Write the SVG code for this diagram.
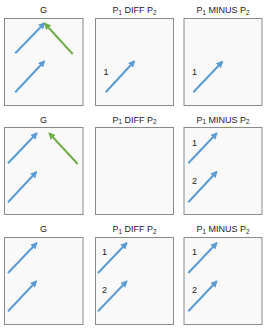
<svg xmlns="http://www.w3.org/2000/svg" width="269" height="329" viewBox="0 0 269 329">
<style>
.box{fill:#f9f9f9;stroke:#8a8a8a;stroke-width:1}
.t{font-family:"Liberation Sans",Arial,sans-serif;font-size:9px;fill:#222;text-anchor:middle}
.s{font-size:6.3px}
.n{font-family:"Liberation Sans",Arial,sans-serif;font-size:9px;fill:#222;text-anchor:middle}
.b{stroke:#5b9bd5;stroke-width:2;fill:none;marker-end:url(#ab)}
.g{stroke:#70ad47;stroke-width:2;fill:none;marker-end:url(#ag)}
</style>
<defs>
<marker id="ab" viewBox="0 0 10 10" refX="8" refY="5" markerWidth="3.5" markerHeight="3.5" orient="auto" markerUnits="strokeWidth"><path d="M0,0 L10,5 L0,10 z" fill="#5b9bd5"/></marker>
<marker id="ag" viewBox="0 0 10 10" refX="8" refY="5" markerWidth="3.5" markerHeight="3.5" orient="auto" markerUnits="strokeWidth"><path d="M0,0 L10,5 L0,10 z" fill="#70ad47"/></marker>
</defs>
<rect width="269" height="329" fill="#ffffff"/>

<g id="r1g">
<text class="t" x="43.5" y="13">G</text>
<rect class="box" x="4.5" y="18.5" width="78.5" height="87"/>
</g>
<g id="r1d">
<text class="t" x="134.5" y="13">P<tspan class="s" dy="1.5">1</tspan><tspan dy="-1.5"> DIFF P</tspan><tspan class="s" dy="1.5">2</tspan></text>
<rect class="box" x="95.5" y="18.5" width="78" height="87"/>
<text class="n" x="106" y="75">1</text>
</g>
<g id="r1m">
<text class="t" x="223" y="13">P<tspan class="s" dy="1.5">1</tspan><tspan dy="-1.5"> MINUS P</tspan><tspan class="s" dy="1.5">2</tspan></text>
<rect class="box" x="184" y="18.5" width="78" height="87"/>
<text class="n" x="194.5" y="75">1</text>
</g>

<g id="r2g">
<text class="t" x="43.5" y="122.5">G</text>
<rect class="box" x="4.5" y="127.5" width="78.5" height="87"/>
</g>
<g id="r2d">
<text class="t" x="134.5" y="122.5">P<tspan class="s" dy="1.5">1</tspan><tspan dy="-1.5"> DIFF P</tspan><tspan class="s" dy="1.5">2</tspan></text>
<rect class="box" x="95.5" y="127.5" width="78" height="87"/>
</g>
<g id="r2m">
<text class="t" x="223" y="122.5">P<tspan class="s" dy="1.5">1</tspan><tspan dy="-1.5"> MINUS P</tspan><tspan class="s" dy="1.5">2</tspan></text>
<rect class="box" x="184" y="127.5" width="78" height="87"/>
<text class="n" x="194.5" y="145.5">1</text>
<text class="n" x="194.5" y="184">2</text>
</g>

<g id="r3g">
<text class="t" x="43.5" y="232">G</text>
<rect class="box" x="4.5" y="237.5" width="78.5" height="87"/>
</g>
<g id="r3d">
<text class="t" x="134.5" y="232">P<tspan class="s" dy="1.5">1</tspan><tspan dy="-1.5"> DIFF P</tspan><tspan class="s" dy="1.5">2</tspan></text>
<rect class="box" x="95.5" y="237.5" width="78" height="87"/>
<text class="n" x="104.5" y="254.5">1</text>
<text class="n" x="104.5" y="293">2</text>
</g>
<g id="r3m">
<text class="t" x="223" y="232">P<tspan class="s" dy="1.5">1</tspan><tspan dy="-1.5"> MINUS P</tspan><tspan class="s" dy="1.5">2</tspan></text>
<rect class="box" x="184" y="237.5" width="78" height="87"/>
<text class="n" x="194.5" y="254.5">1</text>
<text class="n" x="194.5" y="293">2</text>
</g>

<g id="connectors">
<line class="b" x1="15.3" y1="53.3" x2="44.3" y2="23.3"/>
<line class="g" x1="72.7" y1="54" x2="44.8" y2="23.5"/>
<line class="b" x1="15.3" y1="92.3" x2="44.3" y2="61.3"/>
<line class="b" x1="105.7" y1="92.3" x2="134.3" y2="61.3"/>
<line class="b" x1="193.3" y1="92.3" x2="222.3" y2="61.7"/>

<line class="b" x1="8" y1="163.3" x2="36.7" y2="133.3"/>
<line class="g" x1="77.7" y1="164" x2="49.3" y2="133.3"/>
<line class="b" x1="8" y1="202.3" x2="36.3" y2="172"/>
<line class="b" x1="188.3" y1="163.3" x2="216.7" y2="133.3"/>
<line class="b" x1="188.3" y1="202.3" x2="216.7" y2="171.7"/>

<line class="b" x1="8" y1="273" x2="36.7" y2="243"/>
<line class="b" x1="8" y1="311.3" x2="36.3" y2="281.3"/>
<line class="b" x1="98" y1="273" x2="126.7" y2="243"/>
<line class="b" x1="98" y1="311.3" x2="126.7" y2="281.3"/>
<line class="b" x1="188.3" y1="273" x2="216.7" y2="243"/>
<line class="b" x1="188.3" y1="311.3" x2="216.7" y2="281.3"/>
</g>
</svg>
